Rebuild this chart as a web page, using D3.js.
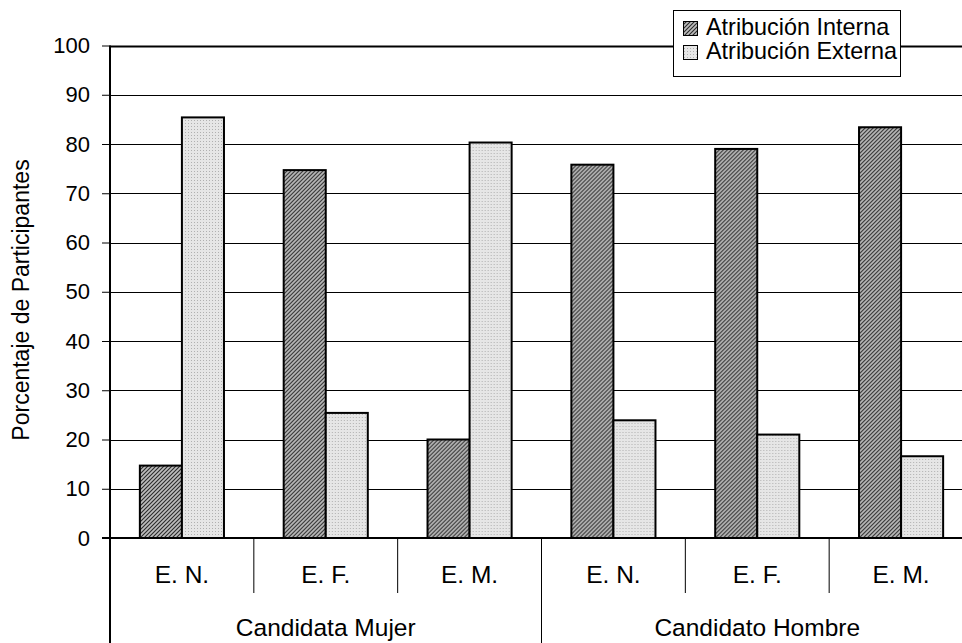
<!DOCTYPE html>
<html>
<head>
<meta charset="utf-8">
<script src="https://cdn.jsdelivr.net/npm/d3@7"></script>
<style>
  html, body { margin: 0; padding: 0; background: #fff; }
  svg { display: block; font-family: "Liberation Sans", Arial, sans-serif; }
</style>
</head>
<body>
<svg id="chart" width="962" height="643"></svg>
<script>
// ---- data ----
const groups = ["Candidata Mujer", "Candidato Hombre"];
const conditions = ["E. N.", "E. F.", "E. M."];
const series = ["Atribución Interna", "Atribución Externa"];
const interna = [14.7, 74.7, 20.0, 75.8, 79.0, 83.4];
const externa = [85.4, 25.4, 80.3, 23.9, 21.0, 16.6];
const yTicks = [0, 10, 20, 30, 40, 50, 60, 70, 80, 90, 100];
const yTitle = "Porcentaje de Participantes";

(function () {
// ---- build table ----
const cats = [];
groups.forEach((g, gi) => conditions.forEach((c, ci) => {
  const i = gi * conditions.length + ci;
  cats.push({ key: g + "|" + c, group: g, cond: c, values: [interna[i], externa[i]] });
}));

const svg = d3.select("#chart");
const pLeft = 110, pRight = 973, pTop = 45.5, pBottom = 538;

const x0 = d3.scaleBand().domain(cats.map(d => d.key)).range([pLeft, pRight]).padding(0);
const x1 = d3.scaleBand().domain(series).range([0, x0.bandwidth()]).paddingInner(0).paddingOuter(0.71);
const y = d3.scaleLinear().domain([0, 100]).range([pBottom, pTop]);

// patterns
const defs = svg.append("defs");
const p1 = defs.append("pattern").attr("id", "pInt").attr("patternUnits", "userSpaceOnUse")
  .attr("width", 4).attr("height", 4);
p1.append("rect").attr("width", 4).attr("height", 4).attr("fill", "#bdbdbd");
p1.append("path").attr("d", "M-1,1 L1,-1 M0,4 L4,0 M3,5 L5,3")
  .attr("stroke", "#2a2a2a").attr("stroke-width", 1.1);
const p2 = defs.append("pattern").attr("id", "pExt").attr("patternUnits", "userSpaceOnUse")
  .attr("width", 3).attr("height", 3);
p2.append("rect").attr("width", 3).attr("height", 3).attr("fill", "#e6e6e6");
p2.append("rect").attr("width", 1).attr("height", 1).attr("fill", "#b0b0b0");
const fills = { "Atribución Interna": "url(#pInt)", "Atribución Externa": "url(#pExt)" };

// gridlines
svg.append("g").selectAll("line").data(yTicks.filter(t => t > 0)).join("line")
  .attr("x1", pLeft).attr("x2", pRight)
  .attr("y1", d => Math.round(y(d)) + 0.5).attr("y2", d => Math.round(y(d)) + 0.5)
  .attr("stroke", "#000").attr("stroke-width", d => d === 100 ? 2 : 1);

// y axis
const yAxis = d3.axisLeft(y).tickValues(yTicks).tickSize(8).tickPadding(12);
const ya = svg.append("g").attr("transform", `translate(${pLeft},0)`).call(yAxis);
ya.select(".domain").remove();
ya.selectAll(".tick line").attr("stroke", "#000").attr("stroke-width", 1);
ya.selectAll(".tick text").attr("font-size", 22).attr("fill", "#000")
  .attr("font-family", "'Liberation Sans', Arial, sans-serif");
svg.append("line").attr("x1", pLeft).attr("x2", pLeft).attr("y1", pTop).attr("y2", 643)
  .attr("stroke", "#000").attr("stroke-width", 2);

// bars
const g = svg.append("g").selectAll("g").data(cats).join("g")
  .attr("transform", d => `translate(${x0(d.key)},0)`);
g.selectAll("rect").data(d => series.map((s, i) => ({ s, v: d.values[i] }))).join("rect")
  .attr("x", d => x1(d.s)).attr("width", x1.bandwidth())
  .attr("y", d => y(d.v)).attr("height", d => y(0) - y(d.v))
  .attr("fill", d => fills[d.s]).attr("stroke", "#000").attr("stroke-width", 2);

// x axis line
svg.append("line").attr("x1", pLeft - 8).attr("x2", pRight).attr("y1", pBottom).attr("y2", pBottom)
  .attr("stroke", "#000").attr("stroke-width", 2);

// category labels and separators
svg.append("g").selectAll("text").data(cats).join("text")
  .attr("x", d => x0(d.key) + x0.bandwidth() / 2).attr("y", 583)
  .attr("text-anchor", "middle").attr("font-size", 24.5).text(d => d.cond);
svg.append("g").selectAll("line").data(cats.slice(1)).join("line")
  .attr("x1", d => x0(d.key)).attr("x2", d => x0(d.key))
  .attr("y1", pBottom).attr("y2", d => d.cond === conditions[0] ? 643 : 593)
  .attr("stroke", "#000").attr("stroke-width", 1);
svg.append("line").attr("x1", pRight).attr("x2", pRight).attr("y1", pBottom).attr("y2", 643)
  .attr("stroke", "#000").attr("stroke-width", 1);

// group labels
svg.append("g").selectAll("text").data(groups).join("text")
  .attr("x", d => {
    const a = x0(d + "|" + conditions[0]);
    const b = x0(d + "|" + conditions[conditions.length - 1]) + x0.bandwidth();
    return (a + b) / 2;
  })
  .attr("y", 636).attr("text-anchor", "middle").attr("font-size", 24.5).text(d => d);

// y title
svg.append("text").attr("transform", "translate(29,300) rotate(-90)")
  .attr("text-anchor", "middle").attr("font-size", 23).text(yTitle);

// legend
const lg = svg.append("g");
lg.append("rect").attr("x", 673.5).attr("y", 10.5).attr("width", 227).attr("height", 66)
  .attr("fill", "#fff").attr("stroke", "#000").attr("stroke-width", 1);
series.forEach((s, i) => {
  lg.append("rect").attr("x", 683.5).attr("y", 21.5 + i * 24).attr("width", 14).attr("height", 14)
    .attr("fill", fills[s]).attr("stroke", "#000").attr("stroke-width", 1);
  lg.append("text").attr("x", 706).attr("y", 35 + i * 24).attr("font-size", 23.4).text(s);
});
})();
</script>
</body>
</html>
